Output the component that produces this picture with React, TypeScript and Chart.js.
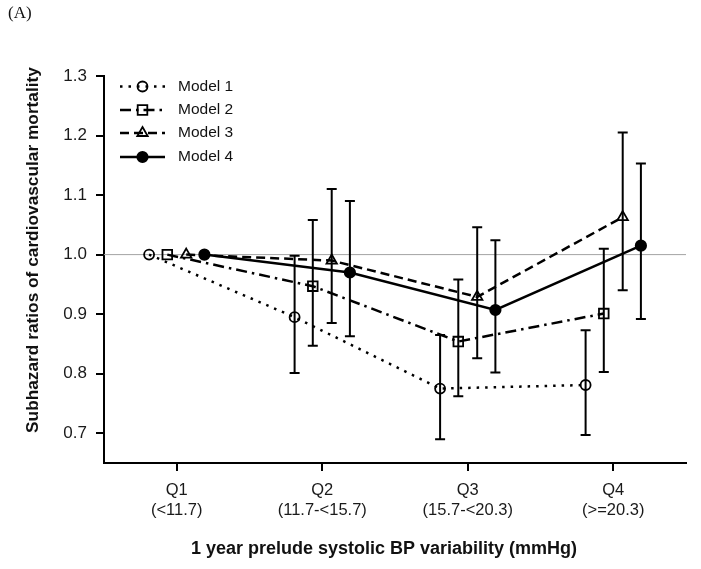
import React, { useEffect, useRef } from "react";
import { Chart, registerables } from "chart.js";
import { drawPoint } from "chart.js/helpers";

Chart.register(...registerables);

const qNames = ["Q1", "Q2", "Q3", "Q4"];
const qRanges = ["(<11.7)", "(11.7-<15.7)", "(15.7-<20.3)", "(>=20.3)"];
const yTicks = [0.7, 0.8, 0.9, 1.0, 1.1, 1.2, 1.3];
const xTitle = "1 year prelude systolic BP variability (mmHg)";
const yTitle = "Subhazard ratios of cardiovascular mortality";

const seriesNames = ["Model 1", "Model 2", "Model 3", "Model 4"];
const xOffsets = [-0.19, -0.065, 0.065, 0.19];

const model1 = [1.0, 0.895, 0.775, 0.781];
const model1Lo = [null, 0.801, 0.69, 0.697];
const model1Hi = [null, 0.998, 0.865, 0.873];

const model2 = [1.0, 0.947, 0.854, 0.901];
const model2Lo = [null, 0.847, 0.762, 0.803];
const model2Hi = [null, 1.058, 0.958, 1.01];

const model3 = [1.0, 0.99, 0.929, 1.063];
const model3Lo = [null, 0.885, 0.826, 0.94];
const model3Hi = [null, 1.11, 1.046, 1.205];

const model4 = [1.0, 0.97, 0.907, 1.015];
const model4Lo = [null, 0.863, 0.802, 0.892];
const model4Hi = [null, 1.09, 1.024, 1.153];

const values = [model1, model2, model3, model4];
const lows = [model1Lo, model2Lo, model3Lo, model4Lo];
const highs = [model1Hi, model2Hi, model3Hi, model4Hi];

const dashes = [[2.5, 6], [11, 5, 2.5, 5], [9, 5], []];
const pointStyles = ["circle", "rect", "triangle", "circle"];
const pointRadii = [5, 6.8, 6, 5.2];
const pointFills = ["rgba(255,255,255,0)", "rgba(255,255,255,0)", "rgba(255,255,255,0)", "#000"];

const AXIS_FONT = "'Liberation Sans', Arial, sans-serif";

const refLinePlugin = {
  id: "refLine",
  beforeDatasetsDraw(chart: any) {
    const { ctx, chartArea, scales } = chart;
    const y = scales.y.getPixelForValue(1.0);
    ctx.save();
    ctx.strokeStyle = "#a3a3a3";
    ctx.lineWidth = 1;
    ctx.beginPath();
    ctx.moveTo(chartArea.left, y);
    ctx.lineTo(chartArea.right, y);
    ctx.stroke();
    ctx.restore();
  },
};

const errorBarPlugin = {
  id: "errorBars",
  afterDatasetsDraw(chart: any) {
    const { ctx, scales } = chart;
    ctx.save();
    ctx.strokeStyle = "#000";
    ctx.lineWidth = 2;
    ctx.setLineDash([]);
    lows.forEach((lo, s) => {
      lo.forEach((l, i) => {
        const h = highs[s][i];
        if (l == null || h == null) return;
        const x = scales.x.getPixelForValue(i + xOffsets[s]);
        const y1 = scales.y.getPixelForValue(l);
        const y2 = scales.y.getPixelForValue(h);
        ctx.beginPath();
        ctx.moveTo(x, y1);
        ctx.lineTo(x, y2);
        ctx.moveTo(x - 5, y1);
        ctx.lineTo(x + 5, y1);
        ctx.moveTo(x - 5, y2);
        ctx.lineTo(x + 5, y2);
        ctx.stroke();
      });
    });
    ctx.restore();
  },
};

const titlesPlugin = {
  id: "axisTitles",
  afterDraw(chart: any) {
    const { ctx, chartArea } = chart;
    ctx.save();
    ctx.fillStyle = "#111";
    ctx.textAlign = "center";
    ctx.textBaseline = "middle";
    ctx.font = `bold 18px ${AXIS_FONT}`;
    ctx.fillText(xTitle, chartArea.left + 280, chartArea.bottom + 86);
    ctx.translate(33, chartArea.top + 174);
    ctx.rotate(-Math.PI / 2);
    ctx.font = `bold 17.3px ${AXIS_FONT}`;
    ctx.fillText(yTitle, 0, 0);
    ctx.restore();
  },
};

const legendPlugin = {
  id: "customLegend",
  afterDraw(chart: any) {
    const { ctx, chartArea } = chart;
    const x0 = chartArea.left + 16;
    const rowYs = [10.5, 34, 57, 81];
    ctx.save();
    chart.data.datasets.forEach((ds: any, i: number) => {
      const y = chartArea.top + rowYs[i];
      ctx.strokeStyle = "#000";
      ctx.lineWidth = 2.5;
      ctx.setLineDash(ds.borderDash || []);
      ctx.beginPath();
      ctx.moveTo(x0, y);
      ctx.lineTo(x0 + 45, y);
      ctx.stroke();
      ctx.setLineDash([]);
      ctx.fillStyle = ds.pointBackgroundColor;
      ctx.strokeStyle = "#000";
      ctx.lineWidth = 1.8;
      drawPoint(ctx, { pointStyle: ds.pointStyle, radius: ds.pointRadius, rotation: 0, borderWidth: 1.8 }, x0 + 22.5, y);
      ctx.fillStyle = "#111";
      ctx.font = `15.5px ${AXIS_FONT}`;
      ctx.textBaseline = "middle";
      ctx.textAlign = "left";
      ctx.fillText(ds.label, x0 + 58, y);
    });
    ctx.restore();
  },
};

export default function App() {
  const canvasRef = useRef<HTMLCanvasElement>(null);

  useEffect(() => {
    if (!canvasRef.current) return;
    const datasets = values.map((vals, s) => ({
      label: seriesNames[s],
      data: vals.map((v, i) => ({ x: i + xOffsets[s], y: v })),
      showLine: true,
      borderColor: "#000",
      borderWidth: 2.5,
      borderDash: dashes[s],
      pointStyle: pointStyles[s],
      pointRadius: pointRadii[s],
      pointBackgroundColor: pointFills[s],
      pointBorderColor: "#000",
      pointBorderWidth: 1.8,
      fill: false,
      tension: 0,
    }));

    const chart = new Chart(canvasRef.current, {
      type: "scatter",
      data: { datasets },
      plugins: [refLinePlugin, errorBarPlugin, legendPlugin, titlesPlugin],
      options: {
        animation: false,
        responsive: true,
        maintainAspectRatio: false,
        layout: { padding: { top: 76, right: 15, left: 0, bottom: 0 } },
        plugins: {
          legend: { display: false },
          tooltip: { enabled: false },
        },
        scales: {
          x: {
            type: "linear",
            min: -0.5,
            max: 3.5,
            afterBuildTicks: (scale: any) => {
              scale.ticks = qNames.map((_, i) => ({ value: i }));
            },
            afterFit: (scale: any) => {
              scale.height = 106;
            },
            ticks: {
              autoSkip: false,
              maxRotation: 0,
              padding: 10,
              color: "#1a1a1a",
              font: { family: AXIS_FONT, size: 16.5, lineHeight: 1.17 },
              callback: (v: any) => [qNames[v], qRanges[v]],
            },
            grid: { drawOnChartArea: false, drawTicks: true, tickLength: 8, color: "#000", lineWidth: 2 },
            border: { display: true, color: "#000", width: 2 },
            title: { display: false },
          },
          y: {
            min: 0.65,
            max: 1.3,
            afterBuildTicks: (scale: any) => {
              scale.ticks = yTicks.map((v) => ({ value: v }));
            },
            afterFit: (scale: any) => {
              scale.width = 104;
            },
            ticks: {
              padding: 9,
              color: "#1a1a1a",
              font: { family: AXIS_FONT, size: 17 },
              callback: (v: any) => Number(v).toFixed(1),
            },
            grid: { drawOnChartArea: false, drawTicks: true, tickLength: 8, color: "#000", lineWidth: 2 },
            border: { display: true, color: "#000", width: 2 },
            title: { display: false },
          },
        },
      } as any,
    });
    return () => chart.destroy();
  }, []);

  return (
    <div style={{ position: "fixed", left: 0, top: 0, width: 701, height: 569, background: "#fff" }}>
      <div
        style={{
          position: "absolute",
          left: 8,
          top: 3,
          fontFamily: "'Liberation Serif', 'Times New Roman', serif",
          fontSize: 17,
          color: "#111",
        }}
      >
        (A)
      </div>
      <canvas ref={canvasRef} />
    </div>
  );
}
